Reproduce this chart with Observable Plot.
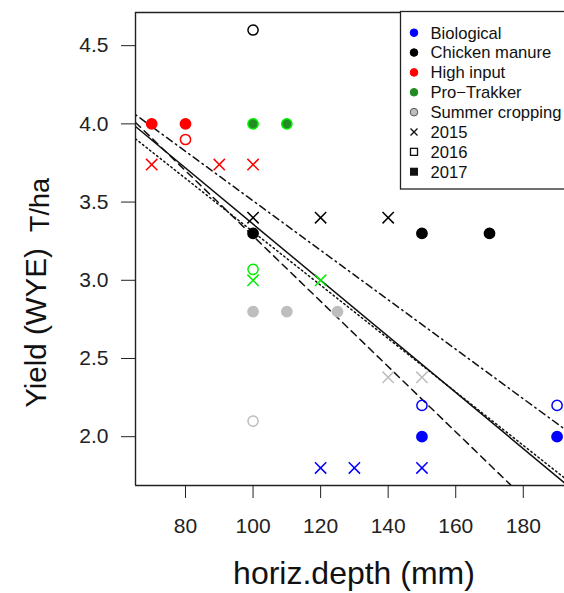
<!DOCTYPE html>
<html><head><meta charset="utf-8">
<script src="https://cdn.jsdelivr.net/npm/d3@7"></script>
<script src="https://cdn.jsdelivr.net/npm/@observablehq/plot@0.6"></script>
<style>html,body{margin:0;padding:0;background:#fff;overflow:hidden}#chart{width:564px;height:593px;overflow:hidden}</style>
</head><body><div id="chart"></div>
<script>
// Categories
const treatments = ["Biological", "Chicken manure", "High input", "Pro\u2212Trakker", "Summer cropping"];
const treatmentColors = ["#0000ff", "#000000", "#ff0000", "#00ee00", "#bebebe"];
const fillColors2017 = ["#0000ff", "#000000", "#ff0000", "#228b22", "#bebebe"];
const years = ["2015", "2016", "2017"];

// 2017 (filled circles)
const t2017 = ["High input", "High input", "Pro\u2212Trakker", "Pro\u2212Trakker", "Chicken manure", "Chicken manure", "Chicken manure", "Summer cropping", "Summer cropping", "Summer cropping", "Biological", "Biological"];
const depth2017 = [70, 80, 100, 110, 100, 150, 170, 100, 110, 125, 150, 190];
const yield2017 = [4.0, 4.0, 4.0, 4.0, 3.3, 3.3, 3.3, 2.8, 2.8, 2.8, 2.0, 2.0];

// 2016 (open circles)
const t2016 = ["High input", "Pro\u2212Trakker", "Chicken manure", "Summer cropping", "Biological", "Biological"];
const depth2016 = [80, 100, 100, 100, 150, 190];
const yield2016 = [3.9, 3.07, 4.6, 2.1, 2.2, 2.2];

// 2015 (crosses)
const t2015 = ["High input", "High input", "High input", "Pro\u2212Trakker", "Pro\u2212Trakker", "Chicken manure", "Chicken manure", "Chicken manure", "Summer cropping", "Summer cropping", "Biological", "Biological", "Biological"];
const depth2015 = [70, 90, 100, 100, 120, 100, 120, 140, 140, 150, 120, 130, 150];
const yield2015 = [3.74, 3.74, 3.74, 3.0, 3.0, 3.4, 3.4, 3.4, 2.38, 2.38, 1.8, 1.8, 1.8];

// Fitted lines (intercept, slope)
const fitNames = ["solid", "dashed", "dotted", "dotdash"];
const fitIntercepts = [5.153, 5.370, 5.017, 5.090];
const fitSlopes = [-0.01794, -0.02087, -0.01707, -0.01582];
const fitDash = [null, "7,5", "1.5,3", "1.5,4,7,4"];

// Axes
const xTicks = [80, 100, 120, 140, 160, 180];
const yTicks = [2.0, 2.5, 3.0, 3.5, 4.0, 4.5];
const xDomain = [65.2, 192.2];
const yDomain = [1.688, 4.712];

const rows = (t, x, y) => t.map((d, i) => ({t: d, x: x[i], y: y[i], c: treatmentColors[treatments.indexOf(d)], f: fillColors2017[treatments.indexOf(d)]}));
const d2017 = rows(t2017, depth2017, yield2017);
const d2016 = rows(t2016, depth2016, yield2016);
const d2015 = rows(t2015, depth2015, yield2015);

const fitMarks = fitNames.map((n, i) => Plot.line(
  xDomain.map(x => ({x, y: fitIntercepts[i] + fitSlopes[i] * x})),
  {x: "x", y: "y", stroke: "#111", strokeWidth: 1.5, strokeDasharray: fitDash[i] || undefined, clip: true}
));

const font = "'Liberation Sans', Arial, Helvetica, sans-serif";

const plot = Plot.plot({
  width: 564, height: 593,
  marginLeft: 135, marginRight: 0, marginTop: 12, marginBottom: 108,
  style: {fontFamily: font, background: "#fff", color: "#222"},
  x: {domain: xDomain},
  y: {domain: yDomain},
  color: {type: "identity"},
  marks: [
    ...fitMarks,
    Plot.dot(d2015, {x: "x", y: "y", symbol: "times", r: 5.2, stroke: "c", strokeWidth: 1.5, clip: true}),
    Plot.dot(d2016, {x: "x", y: "y", r: 5.1, stroke: "c", fill: "none", strokeWidth: 1.5, clip: true}),
    Plot.dot(d2017, {x: "x", y: "y", r: 5.1, fill: "f", stroke: "c", strokeWidth: 1.6, clip: true}),
    Plot.ruleX([xDomain[0]], {stroke: "#222", strokeWidth: 1.4}),
    Plot.ruleY(yDomain, {stroke: "#222", strokeWidth: 1.4}),
    Plot.axisX({ticks: xTicks, tickSize: 13, tickPadding: 20, fontSize: 21, label: null, stroke: "#222"}),
    Plot.axisY({ticks: yTicks, tickSize: 14, tickPadding: 13, fontSize: 21, tickFormat: d3.format(".1f"), label: null, stroke: "#222"})
  ]
});

document.getElementById("chart").appendChild(plot);

const svg = d3.select(plot);
// Axis titles
svg.append("text").attr("x", 354).attr("y", 584).attr("text-anchor", "middle")
  .attr("font-family", font).attr("font-size", 32).attr("fill", "#111").text("horiz.depth (mm)");
svg.append("text").attr("transform", "translate(46,328) rotate(-90)").attr("text-anchor", "middle")
  .attr("font-family", font).attr("font-size", 29.5).attr("fill", "#111").text("Yield (WYE)");
svg.append("text").attr("transform", "translate(49,205) rotate(-90)").attr("text-anchor", "middle")
  .attr("font-family", font).attr("font-size", 27).attr("fill", "#111").text("T/ha");

// Legend
const lg = svg.append("g");
lg.append("rect").attr("x", 400.5).attr("y", 11.5).attr("width", 200).attr("height", 177.5)
  .attr("fill", "#fff").attr("stroke", "#222").attr("stroke-width", 1.3);
const legendLabels = treatments.concat(years);
const rowY = i => 32.7 + i * 19.86;
legendLabels.forEach((lab, i) => {
  const cy = rowY(i), cx = 414;
  if (i < treatments.length) {
    lg.append("circle").attr("cx", cx).attr("cy", cy).attr("r", 3.8)
      .attr("fill", fillColors2017[i])
      .attr("stroke", i === 4 ? "#555" : fillColors2017[i]).attr("stroke-width", 1);
  } else if (lab === "2015") {
    lg.append("path").attr("d", `M${cx-3.5},${cy-3.5}L${cx+3.5},${cy+3.5}M${cx-3.5},${cy+3.5}L${cx+3.5},${cy-3.5}`)
      .attr("stroke", "#111").attr("stroke-width", 1.4);
  } else if (lab === "2016") {
    lg.append("rect").attr("x", cx - 3.5).attr("y", cy - 3.5).attr("width", 7).attr("height", 7)
      .attr("fill", "none").attr("stroke", "#111").attr("stroke-width", 1.3);
  } else {
    lg.append("rect").attr("x", cx - 4).attr("y", cy - 4).attr("width", 8).attr("height", 8).attr("fill", "#111");
  }
  lg.append("text").attr("x", 430.5).attr("y", cy).attr("dy", "0.35em").attr("text-anchor", "start")
    .attr("font-family", font).attr("font-size", 16.6).attr("fill", "#111").text(lab);
});
</script></body></html>
